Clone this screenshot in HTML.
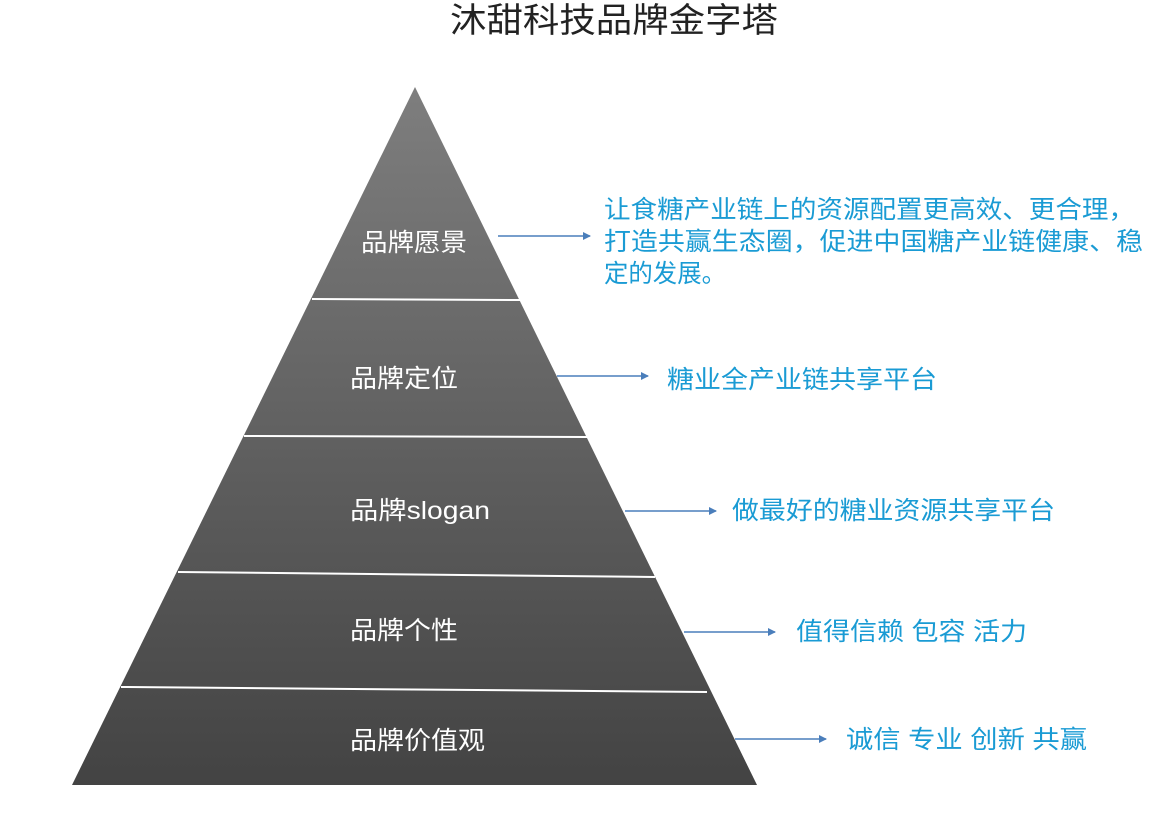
<!DOCTYPE html>
<html><head><meta charset="utf-8"><style>
html,body{margin:0;padding:0;background:#fff;}
svg{display:block;}
text{font-family:"Liberation Sans","Noto Sans CJK SC",sans-serif;}
</style></head><body>
<svg width="1167" height="828" viewBox="0 0 1167 828" xmlns="http://www.w3.org/2000/svg">
<defs>
<linearGradient id="g" x1="0" y1="87" x2="0" y2="785" gradientUnits="userSpaceOnUse">
<stop offset="0" stop-color="#7e7e7e"/><stop offset="1" stop-color="#434343"/>
</linearGradient>
<marker id="a" markerWidth="8" markerHeight="8" refX="7" refY="4" orient="auto" markerUnits="userSpaceOnUse">
<path d="M0,0 L8,4 L0,8 z" fill="#4a7ebb"/></marker>
</defs>
<text x="450" y="32" font-size="34" fill="#222" textLength="328" lengthAdjust="spacingAndGlyphs">沐甜科技品牌金字塔</text>
<polygon points="415,87 757,785 72,785" fill="url(#g)"/>
<g stroke="#fff" stroke-width="2">
<line x1="312" y1="299" x2="520" y2="300"/>
<line x1="244" y1="436" x2="587" y2="437"/>
<line x1="178" y1="572" x2="655" y2="577"/>
<line x1="121" y1="687" x2="707" y2="692"/>
</g>
<g fill="#fff" font-size="25" lengthAdjust="spacingAndGlyphs">
<text x="361" y="251" textLength="106" lengthAdjust="spacingAndGlyphs">品牌愿景</text>
<text x="350" y="387" textLength="108" lengthAdjust="spacingAndGlyphs">品牌定位</text>
<text x="350" y="519" textLength="140" lengthAdjust="spacingAndGlyphs">品牌slogan</text>
<text x="350" y="639" textLength="108" lengthAdjust="spacingAndGlyphs">品牌个性</text>
<text x="350" y="749" textLength="135" lengthAdjust="spacingAndGlyphs">品牌价值观</text>
</g>
<g stroke="#4a7ebb" stroke-width="1.5" marker-end="url(#a)">
<line x1="498" y1="236" x2="590" y2="236"/>
<line x1="557" y1="376" x2="648" y2="376"/>
<line x1="625" y1="511" x2="716" y2="511"/>
<line x1="684" y1="632" x2="775" y2="632"/>
<line x1="735" y1="739" x2="826" y2="739"/>
</g>
<g fill="#1a9bd4" font-size="25">
<text x="604" y="218" textLength="531" lengthAdjust="spacingAndGlyphs">让食糖产业链上的资源配置更高效、更合理，</text>
<text x="604" y="250" textLength="539" lengthAdjust="spacingAndGlyphs">打造共赢生态圈，促进中国糖产业链健康、稳</text>
<text x="604" y="282" textLength="122" lengthAdjust="spacingAndGlyphs">定的发展。</text>
<text x="667" y="388" textLength="270" lengthAdjust="spacingAndGlyphs">糖业全产业链共享平台</text>
<text x="732" y="519" textLength="323" lengthAdjust="spacingAndGlyphs">做最好的糖业资源共享平台</text>
<text x="796" y="640" textLength="231" lengthAdjust="spacingAndGlyphs">值得信赖 包容 活力</text>
<text x="846" y="748" textLength="241" lengthAdjust="spacingAndGlyphs">诚信 专业 创新 共赢</text>
</g>
</svg>
</body></html>
